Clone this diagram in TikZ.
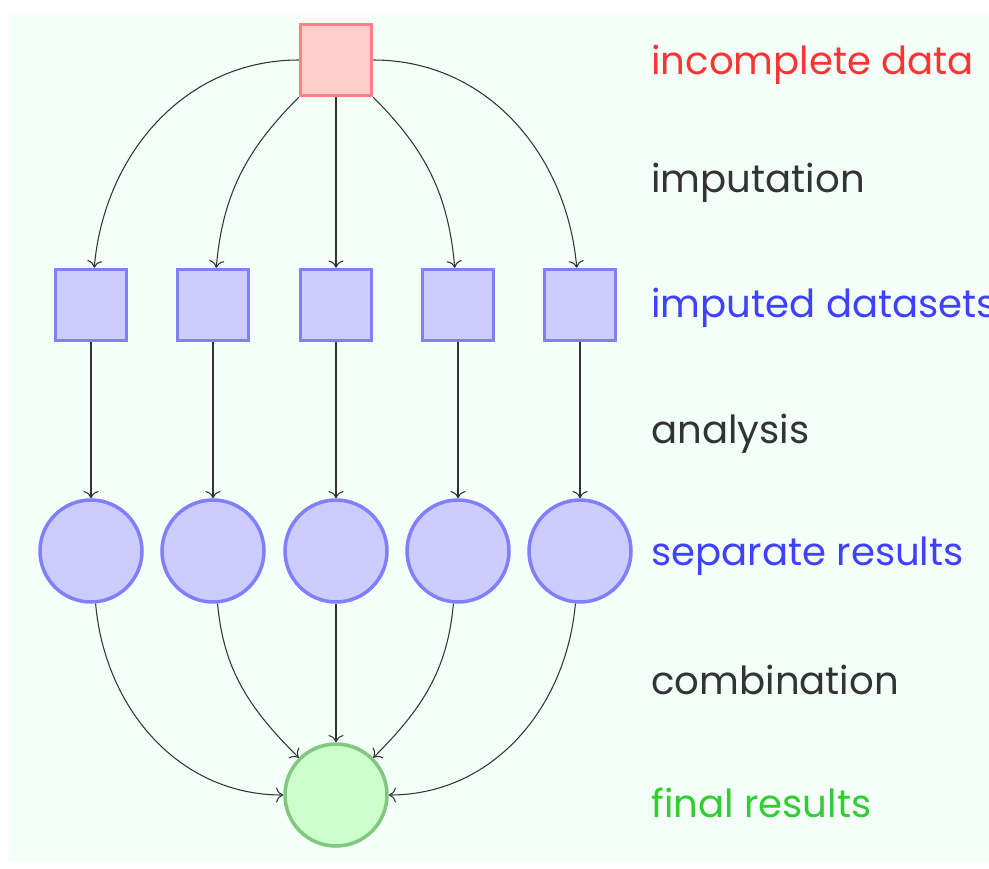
\documentclass[tikz,border=0pt]{standalone}
\usepackage{fontspec}
\setmainfont{Poppins}
\usetikzlibrary{positioning,arrows.meta}

\definecolor{mint}{HTML}{F3FFF8}
\definecolor{redfill}{HTML}{FFCCCC}
\definecolor{reddraw}{HTML}{FF8080}
\definecolor{bluefill}{HTML}{CCCCFF}
\definecolor{bluedraw}{HTML}{8080FF}
\definecolor{greenfill}{HTML}{CCFFCC}
\definecolor{greendraw}{HTML}{80C880}
\definecolor{redtext}{HTML}{FF3333}
\definecolor{bluetext}{HTML}{4040FF}
\definecolor{greentext}{HTML}{33CC33}
\definecolor{steptext}{HTML}{333333}

\begin{document}
\begin{tikzpicture}[
  x=0.02cm, y=-0.02cm,
  every node/.style={font=\fontsize{22}{26}\selectfont},
  box/.style={draw, line width=2pt, minimum size=1.42cm, inner sep=0pt},
  ball/.style={circle, draw, line width=2pt, minimum size=2.04cm, inner sep=0pt},
  flow/.style={-{To[scale=1.4]}, draw=black!80, line width=0.6pt},
  lbl/.style={anchor=base west, inner sep=0pt}
]

% page and backdrop
\useasboundingbox (0,0) rectangle (989,868);
\fill[mint] (9,13) rectangle (989,862);

% incomplete data on top
\node[box, fill=redfill, draw=reddraw] (inc) at (336,60) {};

% five imputations, five analyses
\foreach \i/\x in {1/91,2/213,3/336,4/458,5/580} {
  \node[box, fill=bluefill, draw=bluedraw] (imp\i) at (\x,305) {};
  \node[ball, fill=bluefill, draw=bluedraw] (res\i) at (\x,551) {};
}

% pooled result
\node[ball, fill=greenfill, draw=greendraw] (fin) at (336,795) {};

% imputation
\draw[flow] (inc) to[out=180,in=85] (imp1);
\draw[flow] (inc) to[out=225,in=85] (imp2);
\draw[flow] (inc) -- (imp3);
\draw[flow] (inc) to[out=-45,in=95] (imp4);
\draw[flow] (inc) to[out=0,in=95] (imp5);

% analysis
\foreach \i in {1,...,5}
  \draw[flow] (imp\i) -- (res\i);

% combination
\draw[flow] (res1) to[out=-85,in=180] (fin);
\draw[flow] (res2) to[out=-85,in=135] (fin);
\draw[flow] (res3) -- (fin);
\draw[flow] (res4) to[out=-95,in=45] (fin);
\draw[flow] (res5) to[out=-95,in=0] (fin);

% step captions
\node[lbl, text=redtext] (lblinc) at (651,75) {incomplete data};
\node[lbl, text=steptext] (lblimp) at (651,193) {imputation};
\node[lbl, text=bluetext] (lbldat) at (651,317) {imputed datasets};
\node[lbl, text=steptext] (lblana) at (651,443) {analysis};
\node[lbl, text=bluetext] (lblres) at (651,565) {separate results};
\node[lbl, text=steptext] (lblcom) at (651,694) {combination};
\node[lbl, text=greentext] (lblfin) at (651,817) {final results};

\end{tikzpicture}
\end{document}
